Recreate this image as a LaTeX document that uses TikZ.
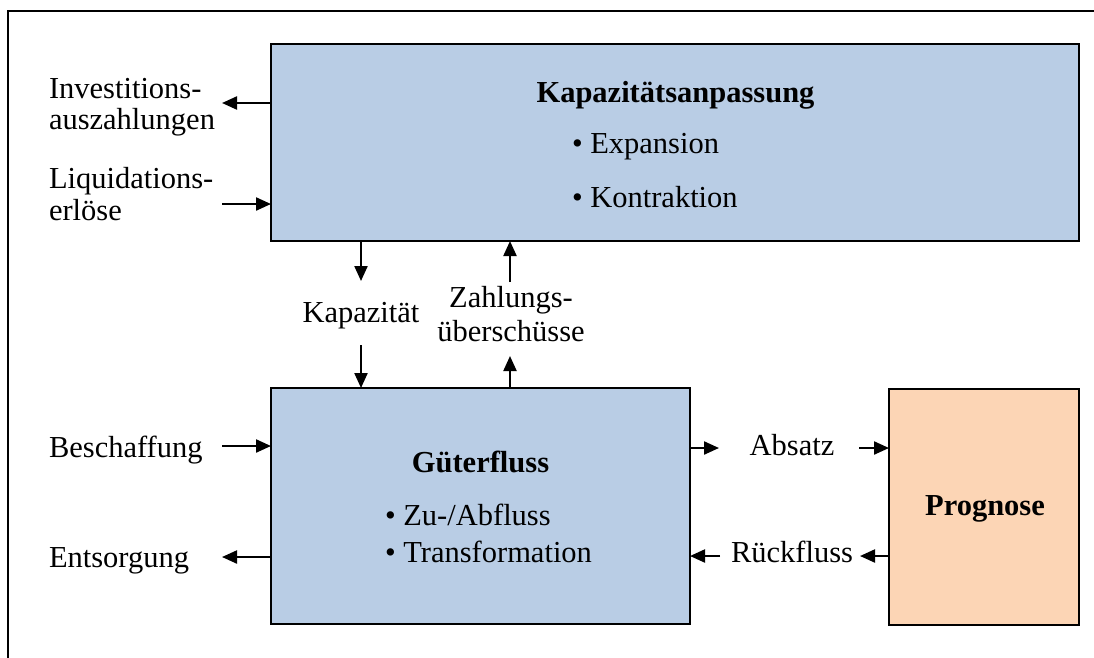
\documentclass[tikz,border=0pt]{standalone}
\usepackage{fontspec}
\setmainfont{Liberation Serif}
\usetikzlibrary{arrows.meta}
\definecolor{boxblue}{HTML}{B9CDE5}
\definecolor{boxorange}{HTML}{FCD5B5}
\begin{document}
\begin{tikzpicture}[x=1pt,y=-1pt,
  every node/.style={font=\fontsize{30.5}{33}\selectfont, inner sep=0pt, outer sep=0pt},
  title/.style={font=\fontsize{30.5}{33}\selectfont\bfseries},
  panel/.style={draw=black, line width=2.6pt},
  arr/.style={line width=2.2pt, -{Triangle[length=15pt,width=13pt]}},
  frame/.style={line width=2.2pt}
]
\useasboundingbox (0,0) rectangle (1094,657);
\clip (0,0) rectangle (1094,657);

% outer frame (runs past the right and bottom edges)
\draw[frame] (8,11) rectangle (1120,690);

% main blocks
\node[panel, fill=boxblue, minimum width=808pt, minimum height=197pt] (cap) at (675,142.5) {};
\node[panel, fill=boxblue, minimum width=419pt, minimum height=236pt] (flow) at (480.5,506) {};
\node[panel, fill=boxorange, minimum width=190pt, minimum height=236pt] (prog) at (984,507) {};

% block contents
\node[title, anchor=base] (capT) at (675.5,102) {Kapazitätsanpassung};
\node[anchor=base west] (capE) at (572,153) {• Expansion};
\node[anchor=base west] (capK) at (572,207) {• Kontraktion};

\node[title, anchor=base] (flowT) at (480.5,472) {Güterfluss};
\node[anchor=base west] (flowZ) at (385,525) {• Zu-/Abfluss};
\node[anchor=base west] (flowTr) at (385,562) {• Transformation};

\node[title, anchor=base] (progT) at (985,515) {Prognose};

% side labels
\node[anchor=base west] (inv1) at (49,98) {Investitions-};
\node[anchor=base west] (inv2) at (49,129) {auszahlungen};
\node[anchor=base west] (liq1) at (49,188) {Liquidations-};
\node[anchor=base west] (liq2) at (49,220) {erlöse};
\node[anchor=base west] (besch) at (49,457) {Beschaffung};
\node[anchor=base west] (ents) at (49,567) {Entsorgung};
\node[anchor=base] (kap) at (361,322) {Kapazität};
\node[anchor=base] (zahl1) at (511,307) {Zahlungs-};
\node[anchor=base] (zahl2) at (511,341) {überschüsse};
\node[anchor=base] (abs) at (792,455) {Absatz};
\node[anchor=base] (rue) at (792,562) {Rückfluss};

% free arrow ends
\coordinate (invTip) at (222,103);
\coordinate (liqTail) at (222,204);
\coordinate (kapA) at (361,281);
\coordinate (kapB) at (361,345);
\coordinate (zahlA) at (510,282);
\coordinate (zahlB) at (510,356);
\coordinate (beschTail) at (222,446);
\coordinate (entsTip) at (222,557);
\coordinate (absA) at (719,448);
\coordinate (absB) at (859,448);
\coordinate (rueA) at (860,556);
\coordinate (rueB) at (720,556);

% connectors
\draw[arr] (cap.west |- invTip) -- (invTip);
\draw[arr] (liqTail) -- (cap.west |- liqTail);
\draw[arr] (cap.south -| kapA) -- (kapA);
\draw[arr] (kapB) -- (flow.north -| kapB);
\draw[arr] (zahlA) -- (cap.south -| zahlA);
\draw[arr] (flow.north -| zahlB) -- (zahlB);
\draw[arr] (beschTail) -- (flow.west |- beschTail);
\draw[arr] (flow.west |- entsTip) -- (entsTip);
\draw[arr] (flow.east |- absA) -- (absA);
\draw[arr] (absB) -- (prog.west |- absB);
\draw[arr] (prog.west |- rueA) -- (rueA);
\draw[arr] (rueB) -- (flow.east |- rueB);
\end{tikzpicture}
\end{document}
